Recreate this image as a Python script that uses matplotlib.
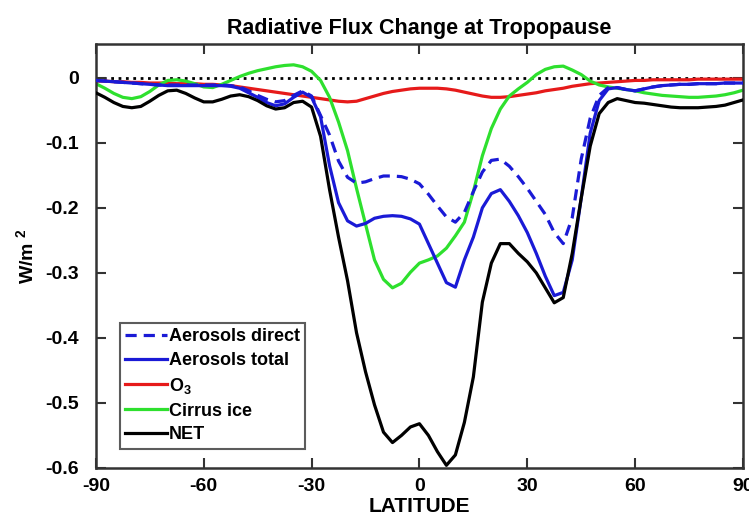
import matplotlib
matplotlib.use("Agg")
import matplotlib.pyplot as plt
import numpy as np

plt.rcParams.update({
    'font.family': ['Liberation Sans', 'DejaVu Sans'],
    'font.weight': 'bold',
    'mathtext.default': 'regular',
    'axes.unicode_minus': False,
})

# latitude grid (deg), 2.5 deg spacing
lat = np.arange(-90, 90.1, 2.5)

aer_direct = [
    -0.004, -0.005, -0.006, -0.007, -0.008, -0.009, -0.010, -0.011, -0.011, -0.011,
    -0.011, -0.011, -0.011, -0.011, -0.011, -0.012, -0.014, -0.020, -0.027, -0.033,
    -0.037, -0.035, -0.027, -0.020, -0.028, -0.058, -0.088, -0.128, -0.153, -0.162,
    -0.160, -0.155, -0.151, -0.151, -0.152, -0.156, -0.163, -0.179, -0.197, -0.214,
    -0.222, -0.207, -0.175, -0.145, -0.127, -0.125, -0.136, -0.152, -0.170, -0.190,
    -0.210, -0.238, -0.255, -0.215, -0.125, -0.062, -0.027, -0.015, -0.015, -0.018,
    -0.020, -0.017, -0.014, -0.012, -0.011, -0.010, -0.010, -0.009, -0.009, -0.009,
    -0.008, -0.008, -0.008,
]
aer_total = [
    -0.004, -0.005, -0.006, -0.007, -0.008, -0.009, -0.010, -0.011, -0.012, -0.012,
    -0.012, -0.012, -0.012, -0.012, -0.012, -0.013, -0.016, -0.023, -0.030, -0.038,
    -0.043, -0.040, -0.030, -0.022, -0.030, -0.060, -0.135, -0.192, -0.220, -0.228,
    -0.224, -0.216, -0.213, -0.212, -0.213, -0.217, -0.225, -0.255, -0.285, -0.315,
    -0.322, -0.280, -0.245, -0.200, -0.178, -0.172, -0.190, -0.212, -0.238, -0.270,
    -0.305, -0.335, -0.330, -0.280, -0.185, -0.085, -0.035, -0.017, -0.015, -0.018,
    -0.020, -0.017, -0.014, -0.012, -0.011, -0.010, -0.010, -0.009, -0.009, -0.009,
    -0.008, -0.008, -0.008,
]
ozone = [
    -0.005, -0.005, -0.006, -0.006, -0.007, -0.007, -0.008, -0.008, -0.008, -0.009,
    -0.009, -0.009, -0.010, -0.010, -0.011, -0.012, -0.014, -0.016, -0.018, -0.020,
    -0.022, -0.024, -0.026, -0.028, -0.030, -0.032, -0.034, -0.036, -0.037, -0.036,
    -0.032, -0.028, -0.024, -0.021, -0.019, -0.017, -0.016, -0.016, -0.016, -0.017,
    -0.019, -0.022, -0.025, -0.028, -0.030, -0.030, -0.029, -0.027, -0.025, -0.023,
    -0.020, -0.018, -0.016, -0.013, -0.011, -0.009, -0.008, -0.007, -0.006, -0.005,
    -0.004, -0.004, -0.003, -0.003, -0.003, -0.003, -0.003, -0.002, -0.002, -0.002,
    -0.002, -0.002, -0.002,
]
cirrus = [
    -0.009, -0.016, -0.024, -0.030, -0.032, -0.029, -0.021, -0.011, -0.004, -0.003,
    -0.005, -0.009, -0.014, -0.015, -0.010, -0.004, 0.002, 0.007, 0.011, 0.014,
    0.017, 0.019, 0.020, 0.017, 0.010, -0.004, -0.030, -0.068, -0.112, -0.170,
    -0.225, -0.280, -0.310, -0.323, -0.316, -0.299, -0.285, -0.280, -0.274, -0.262,
    -0.243, -0.222, -0.175, -0.120, -0.078, -0.048, -0.028, -0.017, -0.007, 0.005,
    0.013, 0.017, 0.018, 0.012, 0.005, -0.005, -0.011, -0.014, -0.016, -0.018,
    -0.020, -0.023, -0.025, -0.027, -0.028, -0.029, -0.030, -0.030, -0.029, -0.028,
    -0.026, -0.023, -0.019,
]
net = [
    -0.023, -0.030, -0.038, -0.044, -0.046, -0.044, -0.036, -0.027, -0.020, -0.019,
    -0.024, -0.031, -0.037, -0.037, -0.033, -0.028, -0.026, -0.029, -0.035, -0.043,
    -0.048, -0.046, -0.038, -0.036, -0.045, -0.090, -0.172, -0.245, -0.312, -0.392,
    -0.452, -0.503, -0.545, -0.561, -0.550, -0.537, -0.532, -0.550, -0.575, -0.596,
    -0.580, -0.530, -0.460, -0.345, -0.285, -0.255, -0.255, -0.270, -0.283, -0.300,
    -0.323, -0.346, -0.338, -0.270, -0.185, -0.105, -0.055, -0.038, -0.032, -0.035,
    -0.038, -0.039, -0.041, -0.043, -0.045, -0.046, -0.046, -0.046, -0.045, -0.044,
    -0.042, -0.038, -0.034,
]

xticks = [-90, -60, -30, 0, 30, 60, 90]
yticks = [0, -0.1, -0.2, -0.3, -0.4, -0.5, -0.6]
ytick_labels = ['0', '-0.1', '-0.2', '-0.3', '-0.4', '-0.5', '-0.6']

fig = plt.figure(figsize=(7.49, 5.24), dpi=100)
ax = fig.add_axes([0.128, 0.107, 0.864, 0.809])

ax.axhline(0, color='black', linestyle=':', linewidth=2.0, zorder=1)
ax.plot(lat, aer_direct, color='#1a1ad6', linewidth=2.3, linestyle=(0, (3.5, 2.2)),
        label='Aerosols direct', zorder=3)
ax.plot(lat, aer_total, color='#1a1ad6', linewidth=2.3, label='Aerosols total', zorder=3)
ax.plot(lat, ozone, color='#e61a1a', linewidth=2.3, label='O$_3$', zorder=2)
ax.plot(lat, cirrus, color='#2ee02e', linewidth=2.3, label='Cirrus ice', zorder=2)
ax.plot(lat, net, color='black', linewidth=2.3, label='NET', zorder=4)

ax.set_xlim(-90, 90)
ax.set_ylim(-0.6, 0.052)
ax.set_xticks(xticks)
ax.set_yticks(yticks)
ax.set_yticklabels(ytick_labels)
ax.tick_params(direction='in', length=7, width=1.5, top=True, right=True,
               labelsize=14, colors='#333333', labelcolor='black')
ax.tick_params(axis='y', pad=12)
ax.tick_params(axis='x', pad=7)
for sp in ax.spines.values():
    sp.set_linewidth(1.8)
    sp.set_color('#333333')

ax.set_title('Radiative Flux Change at Tropopause', fontsize=15.5, fontweight='bold', pad=7)
ax.set_xlabel('LATITUDE', fontsize=15, fontweight='bold', labelpad=2)
ax.set_ylabel('W/m $^{2}$', fontsize=14, fontweight='bold', labelpad=6)

leg = ax.legend(loc='lower left', bbox_to_anchor=(0.037, 0.045), fontsize=13,
                frameon=True, fancybox=False, handlelength=2.3, handletextpad=0.1,
                borderpad=0.3, labelspacing=0.38, borderaxespad=0)
leg.get_frame().set_edgecolor('#333333')
leg.get_frame().set_linewidth(1.5)

fig.savefig('out.png', dpi=100)
